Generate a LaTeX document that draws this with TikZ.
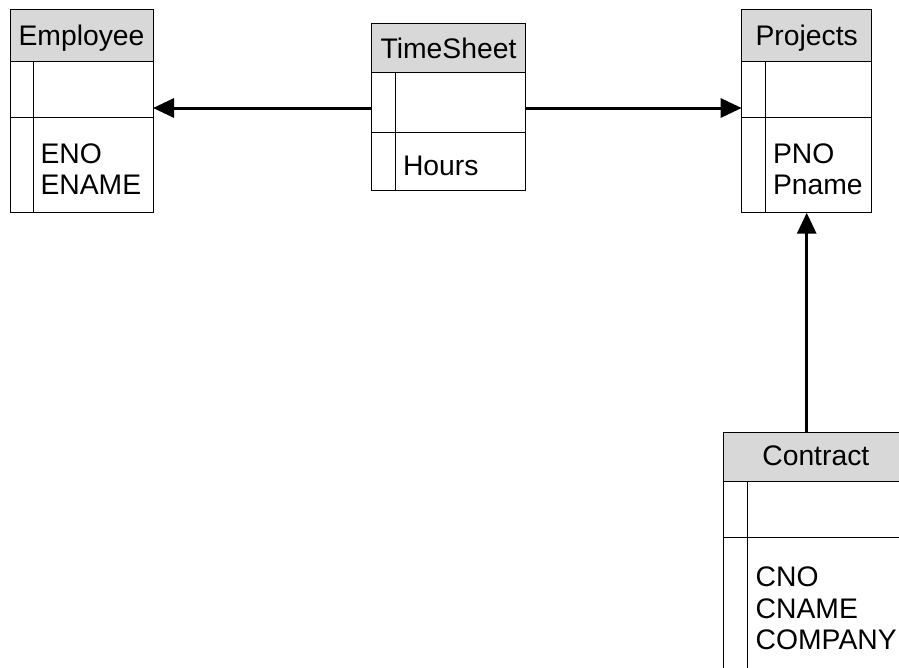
\documentclass[tikz,border=0pt]{standalone}
\usepackage{fontspec}
\setmainfont{Liberation Sans}
\usetikzlibrary{arrows.meta}
\definecolor{hdrgray}{RGB}{216,216,216}
\begin{document}
\begin{tikzpicture}[x=1pt,y=-1pt,
  every node/.style={inner sep=0pt, outer sep=0pt, font=\fontsize{28.3}{31}\selectfont},
  hdr/.style={draw=black, line width=1pt, fill=hdrgray, anchor=north west},
  body/.style={draw=black, line width=1pt, anchor=north west},
  rule/.style={draw=black, line width=1pt},
  txt/.style={anchor=base west},
  ttl/.style={anchor=base},
  rel/.style={line width=3pt, -{Triangle[length=21pt,width=19pt]}}
]
\useasboundingbox (0,0) rectangle (899,667);
\clip (0,0) rectangle (899,667);

% Employee
\node[hdr, minimum width=143pt, minimum height=51.5pt] (empH) at (10,9.5) {};
\node[body, minimum width=143pt, minimum height=151.3pt] (empB) at (empH.south west) {};
\draw[rule] (empB.west |- 0,117) -- (empB.east |- 0,117);
\draw[rule] (33,61) -- (33,212.3);
\node[ttl] (empT) at (81.5,45.6) {Employee};
\node[txt] (empA1) at (40.5,163.5) {ENO};
\node[txt] (empA2) at (40.5,194.5) {ENAME};

% TimeSheet
\node[hdr, minimum width=154.4pt, minimum height=49.4pt] (tsH) at (371.3,23.3) {};
\node[body, minimum width=154.4pt, minimum height=118pt] (tsB) at (tsH.south west) {};
\draw[rule] (tsB.west |- 0,132.7) -- (tsB.east |- 0,132.7);
\draw[rule] (395,72.7) -- (395,190.7);
\node[ttl] (tsT) at (448.5,58) {TimeSheet};
\node[txt] (tsA1) at (403,175) {Hours};

% Projects
\node[hdr, minimum width=130pt, minimum height=51.7pt] (prH) at (741.7,9.3) {};
\node[body, minimum width=130pt, minimum height=151.7pt] (prB) at (prH.south west) {};
\draw[rule] (prB.west |- 0,117) -- (prB.east |- 0,117);
\draw[rule] (765,61) -- (765,212.7);
\node[ttl] (prT) at (806.7,45.3) {Projects};
\node[txt] (prA1) at (773,163.5) {PNO};
\node[txt] (prA2) at (773,194.5) {Pname};

% Contract
\node[hdr, minimum width=185pt, minimum height=49.4pt] (ctH) at (723.3,432.3) {};
\node[body, minimum width=185pt, minimum height=300pt] (ctB) at (ctH.south west) {};
\draw[rule] (ctB.west |- 0,537.3) -- (ctB.east |- 0,537.3);
\draw[rule] (747.3,481.7) -- (747.3,780);
\node[ttl] (ctT) at (815.8,465.5) {Contract};
\node[txt] (ctA1) at (755.7,586.7) {CNO};
\node[txt] (ctA2) at (755.7,618) {CNAME};
\node[txt] (ctA3) at (755.7,649) {COMPANY};

% Relationships
\draw[rel] (tsB.west |- 0,108) -- (empB.east |- 0,108);
\draw[rel] (tsB.east |- 0,108) -- (prB.west |- 0,108);
\draw[rel] (ctH.north -| 806.7,0) -- (prB.south -| 806.7,0);
\end{tikzpicture}
\end{document}
